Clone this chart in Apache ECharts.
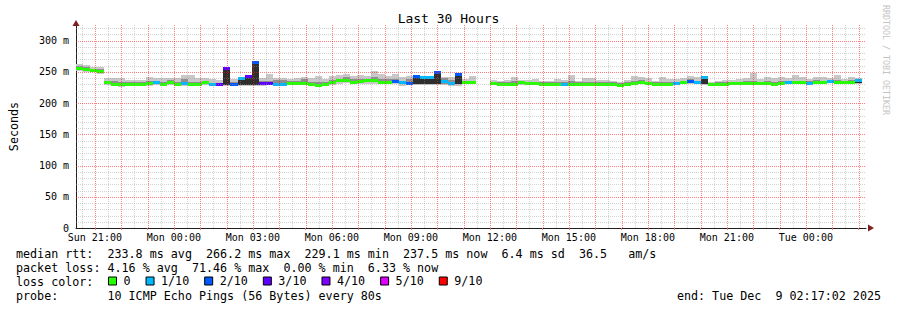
<!DOCTYPE html>
<html><head><meta charset="utf-8">
<script src="https://cdn.jsdelivr.net/npm/echarts@6/dist/echarts.min.js"></script>
<style>html,body{margin:0;padding:0;background:#fff}#c{width:897px;height:310px}</style>
</head><body><div id="c"></div>
<script>
// ---------------- data ----------------
const startHour = 20 + 17/60 + 2/3600;   // Sun 20:17:02 (hours since Sun 00:00)
const endHour = startHour + 30;           // Tue 02:17:02
const stepHours = 16/60;                  // one consolidated block = 16 min
const yMax = 325;

const median = [
 255.5,254,252.5,251,234,231,230,230.5,231,231,231.5,233,231,233,230.5,231.5,231,231,233,230,
 230.5,256.5,231,240.5,243.5,266.5,231.5,231.5,230,230,231.5,231.5,232,230,229.5,230,233,237,237,234.5,
 235.5,237,236.5,234.5,234.5,235.5,233.5,232,244,241.5,241.5,249,236,232,247,233,233,null,null,232,
 230.5,230.5,231,233,232,232,230.5,230.5,230.5,230.5,230.5,231,230.5,230.5,230.5,230.5,230,229.5,231,232,
 233.5,231.5,230.5,231,230.5,231.5,233,235.5,233,241,230.5,230.5,230.5,231.5,231.5,232.5,231.5,232,231.5,230,
 232,233,233,233.5,232,234,234,235,234,233,234,237.5];
const loss = [
 0,0,0,0,0,0,0,0,0,0,0,1,0,0,0,1,0,0,0,1,
 3,3,2,1,3,2,3,3,1,1,0,0,0,0,0,0,0,0,0,0,
 0,0,0,0,0,2,1,2,2,1,1,2,1,1,2,0,0,null,null,0,
 0,0,0,0,0,0,0,0,0,1,0,0,0,0,0,0,0,0,0,0,
 0,0,0,0,0,1,0,2,1,1,0,0,0,0,0,0,0,0,0,0,
 0,1,0,0,1,0,0,1,0,0,0,1];
const smokeHi = [
 262.5,260.5,258,258.5,240,240,240,237.5,237,237,242.5,240,239.5,240,240,245,245,240,239.5,238.5,
 237.5,258,239,242,245,268,239.5,247,239.5,239.5,239,240,242,240,244,239,243,245,247,244,
 245,244,251,246,244,246,241,243,245.5,243,243,250.5,242,241,248.5,239,244,null,null,237,
 235,237,242.5,237,237,239,236,236,239,237,244.5,236,240,240,237,237,235,234,237,243,
 241,240,236,241,239,238,240.5,243,242,242.5,234,236,237,237,239,240,247.5,239,241,239.5,
 241,240.5,245,241,239,242,241,240,245,239,241,240];
const smokeLo = [
 252,250.5,249,247,229.5,227,226.5,227.5,228,228,228,229,227.5,229,228,228,228,228,229.5,227,
 227.5,228,228,228,228,228,228,228.5,228,228,229,229,228.5,227,227,227,229,230,231.5,230,
 231,231,231,231,230,230,228,229,229,229,229,229,229,228,228,230,230,null,null,229,
 228,227.5,228,229,228.5,228.5,228,228,228,228,228,229,228,228,228,228,227.5,227,228.5,229,
 230,229,228,228.5,228,228.5,230,231,230,229,228,228,228,229,229,229.5,229,229,229,227,
 229,230,230,230.5,229,231,230.5,231.5,231,230,231,231];
const midHi = [
 259,257,255,254,236,235,233,233,233,233,235,235,234,237,233,238,233,233,235,232,
 232,257,234,241,244,267,235,236,237,237,236,235,238,234,233,233,237,239,241,238,
 239,239,241,238,239,238,236,239,244,242,242,249,240,237,247,235,236,null,null,234,
 233,233,235,235,234,234,233,233,233,233,235,233,233,233,233,233,233,232,233,236,
 237,234,233,234,233,234,236,238,236,241,232,233,233,234,234,235,235,234,235,233,
 236,236,236,236,235,237,236,237,237,235,237,238];
const midLo = [
 253.5,252,250.5,249,231.5,229,228,228.5,229,229,229.5,230.5,229,231,229,229.5,229,229,231,228,
 228.5,229,229,229,229,229,229.5,229.5,228.5,228.5,229.5,229.5,230,228,228,228,231,234,234,232,
 233,234,234,232,232,233,231,230,230,230,230,230,231,230,230,231,231,null,null,230,
 229,229,229,231,230,230,229,229,229,229,229,229.5,229,229,229,229,228.5,228,229.5,230.5,
 231.5,230,229,229.5,229,230,231.5,233,231,230,229,229,229,230,230,231,230,230.5,230,228.5,
 230.5,231.5,231.5,232,230.5,232.5,232.5,233,232.5,231.5,232.5,232];
// blocks with a wide inner spread: [block index, low, high]
const darkBlocks = [[21,229,256.5],[23,229,240.5],[24,229,243.5],[25,229,266.5],
 [48,230,244],[49,230,241.5],[50,230,241.5],[51,230,249],[54,230,247],[89,230,241],[111,232,237.5]];

const xLabelHours = [21,24,27,30,33,36,39,42,45,48];
const yLabelValues = [0,50,100,150,200,250,300];
const lossLevels = [0,1,2,3,4,5,9];
const lossNames = ['0','1/10','2/10','3/10','4/10','5/10','9/10'];
const legendLines = [
 'median rtt:  233.8 ms avg  266.2 ms max  229.1 ms min  237.5 ms now  6.4 ms sd  36.5   am/s',
 'packet loss: 4.16 % avg  71.46 % max  0.00 % min  6.33 % now',
 'loss color:',
 'probe:       10 ICMP Echo Pings (56 Bytes) every 80s'];
const endText = 'end: Tue Dec  9 02:17:02 2025';

// ---------------- style ----------------
const FONT = '"DejaVu Sans Mono", monospace';
const lossColors = {0:'#26ff00',1:'#00b8ff',2:'#0059ff',3:'#5e00ff',4:'#7e00ff',5:'#dd00ff',9:'#ff0000'};
const nb = s => s.replace(/ /g, '\u00a0');

// ---------------- build ----------------
const smokeData = [], midData = [], darkData = [];
const medianByLoss = {}; lossLevels.forEach(l => medianByLoss[l] = []);
for (let i = 0; i < median.length; i++) {
  if (median[i] == null) continue;
  const t0 = startHour + i*stepHours, t1 = t0 + stepHours;
  smokeData.push([t0, t1, smokeLo[i], smokeHi[i]]);
  midData.push([t0, t1, midLo[i], midHi[i]]);
  medianByLoss[loss[i]].push([t0, t1, median[i]]);
}
darkBlocks.forEach(d => { const t0 = startHour + d[0]*stepHours; darkData.push([t0, t0+stepHours, d[1], d[2]]); });

function bandRenderer(color) {
  return function (params, api) {
    const a = api.coord([api.value(0), api.value(3)]);
    const b = api.coord([api.value(1), api.value(2)]);
    const x0 = Math.round(a[0]), x1 = Math.round(b[0]);
    const y0 = Math.round(a[1]), y1 = Math.round(b[1]);
    return {type:'rect', shape:{x:x0, y:y0, width:x1-x0, height:Math.max(1, y1-y0)}, style:{fill:color}};
  };
}
function medianRenderer(color) {
  return function (params, api) {
    const a = api.coord([api.value(0), api.value(2)]);
    const b = api.coord([api.value(1), api.value(2)]);
    const x0 = Math.round(a[0]), x1 = Math.round(b[0]);
    const yc = Math.round(a[1]);
    return {type:'rect', shape:{x:x0, y:yc-1, width:x1-x0, height:3}, style:{fill:color}};
  };
}
function vLine(color) {
  return function (params, api) {
    const cs = params.coordSys;
    const x = Math.round(api.coord([api.value(0), 0])[0]) + 0.5;
    return {type:'line', shape:{x1:x, y1:cs.y, x2:x, y2:cs.y+cs.height}, style:{stroke:color, lineWidth:1, lineDash:[1,1]}};
  };
}
function hLine(color) {
  return function (params, api) {
    const cs = params.coordSys;
    const y = Math.round(api.coord([startHour, api.value(1)])[1]) + 0.5;
    return {type:'line', shape:{x1:cs.x, y1:y, x2:cs.x+cs.width, y2:y}, style:{stroke:color, lineWidth:1, lineDash:[1,1]}};
  };
}
const vMinor = [], vMajor = [], hMinor = [], hMajor = [];
for (let h = Math.ceil(startHour); h < endHour; h++) vMajor.push([h, 0]);
for (let h = 20.5; h < endHour; h += 1) if (h > startHour) vMinor.push([h, 0]);
for (let v = 10; v < yMax; v += 10) { if (v % 50 === 0) hMajor.push([startHour, v]); else hMinor.push([startHour, v]); }

const GRIDMINOR = 'rgba(150,150,150,0.42)';
const GRIDMAJOR = 'rgba(255,20,20,0.55)';
const days = ['Sun','Mon','Tue','Wed'];

const series = [
  {type:'custom', name:'smoke', renderItem: bandRenderer('#c8c8c8'), data: smokeData, encode:{x:[0,1], y:[2,3]}, z:2, silent:true},
  {type:'custom', name:'smoke2', renderItem: bandRenderer('#8e8e8e'), data: midData, encode:{x:[0,1], y:[2,3]}, z:3, silent:true},
  {type:'custom', name:'smoke3', renderItem: bandRenderer('#2e2e2e'), data: darkData, encode:{x:[0,1], y:[2,3]}, z:4, silent:true}
];
lossLevels.forEach((l, k) => {
  series.push({type:'custom', name: lossNames[k], renderItem: medianRenderer(lossColors[l]), itemStyle:{color:lossColors[l]},
    data: medianByLoss[l], encode:{x:[0,1], y:2}, z:5, silent:true});
});
series.push({type:'custom', name:'gridMinorV', renderItem: vLine(GRIDMINOR), data: vMinor, z:6, silent:true});
series.push({type:'custom', name:'gridMinorH', renderItem: hLine(GRIDMINOR), data: hMinor, z:6, silent:true});
series.push({type:'custom', name:'gridMajorV', renderItem: vLine(GRIDMAJOR), data: vMajor, z:7, silent:true});
series.push({type:'custom', name:'gridMajorH', renderItem: hLine(GRIDMAJOR), data: hMajor, z:7, silent:true});

const hourTicks = vMajor.map(d => d[0]);

const chart = echarts.init(document.getElementById('c'), null, {renderer:'svg'});
chart.setOption({
  backgroundColor:'#ffffff',
  animation:false,
  title:{text:'Last 30 Hours', left:'center', top:12, padding:0,
    textStyle:{fontFamily:FONT, fontSize:13, fontWeight:'normal', color:'#000'}},
  grid:{left:66, right:31, top:25, bottom:82},
  xAxis:[{
    type:'value', min:startHour, max:endHour,
    axisLine:{show:true, lineStyle:{color:'#1f1f1f', width:1}},
    axisTick:{show:true, customValues:hourTicks, length:2, lineStyle:{color:'#e08080'}},
    axisLabel:{customValues:xLabelHours, margin:4, fontFamily:FONT, fontSize:10, color:'#000',
      formatter: h => days[Math.floor(h/24)] + ' ' + String(h%24).padStart(2,'0') + ':00'},
    splitLine:{show:false}
  },{
    type:'value', min:startHour, max:endHour, position:'bottom',
    axisLine:{show:true, symbol:['none','triangle'], symbolSize:[7,6], symbolOffset:[0,5], lineStyle:{color:'#801f1f', opacity:0}},
    axisTick:{show:false}, axisLabel:{show:false}, splitLine:{show:false}
  }],
  yAxis:[{
    type:'value', min:0, max:yMax,
    axisLine:{show:true, lineStyle:{color:'#1f1f1f', width:1}},
    axisTick:{show:false},
    axisLabel:{customValues:yLabelValues, margin:7, fontFamily:FONT, fontSize:10, color:'#000',
      formatter: v => v === 0 ? '0' : v + ' m'},
    splitLine:{show:false},
    name:'Seconds', nameLocation:'middle', nameRotate:90, nameGap:56,
    nameTextStyle:{fontFamily:FONT, fontSize:11.7, color:'#000'}
  },{
    type:'value', min:0, max:yMax, position:'left',
    axisLine:{show:true, symbol:['none','triangle'], symbolSize:[7,6], symbolOffset:[0,2], lineStyle:{color:'#801f1f', opacity:0}},
    axisTick:{show:false}, axisLabel:{show:false}, splitLine:{show:false}
  }],
  legend:{data:lossNames, left:108, top:275, padding:0, itemGap:15, itemWidth:8, itemHeight:8,
    icon:'rect', selectedMode:false, itemStyle:{borderColor:'#000', borderWidth:1},
    textStyle:{fontFamily:FONT, fontSize:11.7, color:'#000', padding:[0,0,0,2]}},
  graphic: legendLines.map((t, i) => ({type:'text', x:16, y:254 + i*14, silent:true,
      style:{text:nb(t), font:'11.7px ' + FONT, fill:'#000', align:'left', verticalAlign:'middle', textVerticalAlign:'middle'}}))
    .concat([
      {type:'text', x:881, y:296, silent:true,
       style:{text:nb(endText), font:'11.7px ' + FONT, fill:'#000', align:'right', textAlign:'right', verticalAlign:'middle', textVerticalAlign:'middle'}},
      {type:'text', x:886, y:60, rotation:-Math.PI/2, silent:true,
       style:{text:'RRDTOOL / TOBI OETIKER', font:'8.3px ' + FONT, fill:'#c4c4c4', align:'center', textAlign:'center', verticalAlign:'middle', textVerticalAlign:'middle'}}
    ]),
  series: series
});
</script></body></html>
